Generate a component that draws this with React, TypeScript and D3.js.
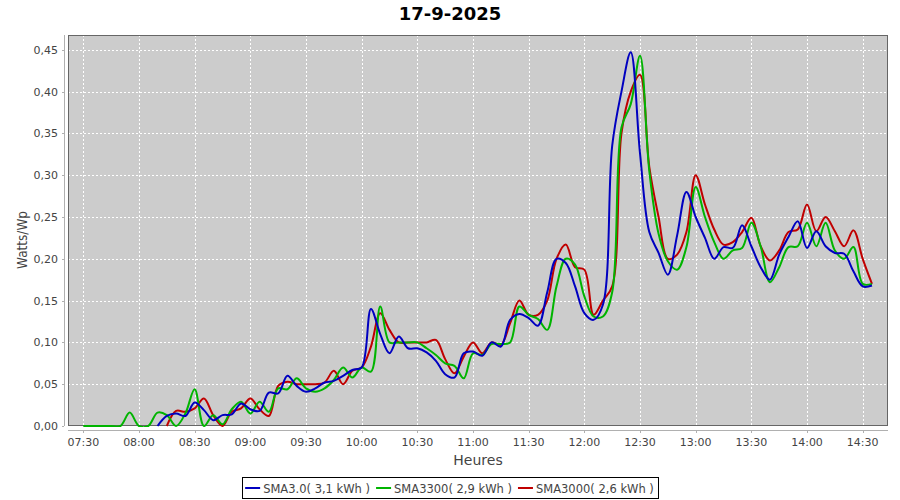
import React from 'react';
import * as d3 from 'd3';

const TITLE = '17-9-2025';
const Y_LABEL = 'Watts/Wp';
const X_LABEL = 'Heures';
const START_H = 7;
const START_M = 30;
const STEP_MIN = 5;

const SERIES_NAMES = ['SMA3.0( 3,1 kWh )', 'SMA3300( 2,9 kWh )', 'SMA3000( 2,6 kWh )'];
const SERIES_COLORS = ['#0000c0', '#00b400', '#c00000'];

const sma30: (number | null)[] = [
  null, null, null, null, null, null, null, null,
  0, 0.012, 0.015, 0.012, 0.028, 0.019, 0.007, 0.013, 0.014, 0.027, 0.02, 0.018,
  0.04, 0.039, 0.06, 0.048, 0.041, 0.045, 0.052, 0.054, 0.06, 0.067,
  0.07, 0.14, 0.11, 0.087, 0.107, 0.093, 0.093, 0.088, 0.078, 0.062,
  0.058, 0.087, 0.089, 0.084, 0.1, 0.095, 0.127, 0.134, 0.129, 0.12,
  0.16, 0.2, 0.195, 0.167, 0.135, 0.127, 0.145, 0.335, 0.4, 0.447,
  0.326, 0.232, 0.207, 0.181, 0.228, 0.28, 0.25, 0.225, 0.2, 0.214,
  0.213, 0.24, 0.215, 0.19, 0.175, 0.205, 0.226, 0.245, 0.213, 0.233,
  0.215, 0.207, 0.206, 0.185, 0.167, 0.168,
];

const sma3300: (number | null)[] = [
  0, 0, 0, 0, 0, 0.016, 0, 0, 0.016, 0.013,
  0, 0.015, 0.044, 0, 0.013, 0.002, 0.02, 0.029, 0.015, 0.029,
  0.017, 0.045, 0.044, 0.057, 0.045, 0.041, 0.045, 0.055, 0.07, 0.058,
  0.07, 0.065, 0.143, 0.1, 0.1, 0.1, 0.1, 0.093, 0.085, 0.075,
  0.072, 0.057, 0.087, 0.085, 0.098, 0.098, 0.1, 0.143, 0.133, 0.128,
  0.115, 0.167, 0.2, 0.193, 0.155, 0.131, 0.131, 0.16, 0.357, 0.385,
  0.443, 0.305, 0.23, 0.197, 0.187, 0.214, 0.286, 0.25, 0.22, 0.2,
  0.21, 0.213, 0.243, 0.215, 0.172, 0.19, 0.214, 0.215, 0.243, 0.215,
  0.243, 0.21, 0.2, 0.214, 0.17, 0.17,
];

const sma3000: (number | null)[] = [
  null, null, null, null, null, null, null, null, null,
  0, 0.018, 0.017, 0.021, 0.033, 0.013, 0, 0.017, 0.021, 0.033, 0.02,
  0.012, 0.048, 0.053, 0.05, 0.05, 0.05, 0.052, 0.066, 0.05, 0.066,
  0.07, 0.095, 0.135, 0.115, 0.1, 0.1, 0.1, 0.1, 0.103, 0.08,
  0.063, 0.083, 0.1, 0.087, 0.1, 0.097, 0.123, 0.15, 0.133, 0.133,
  0.15, 0.2, 0.217, 0.19, 0.187, 0.133, 0.15, 0.167, 0.35, 0.4,
  0.42, 0.31, 0.25, 0.2, 0.205, 0.232, 0.3, 0.265, 0.235, 0.217,
  0.22, 0.232, 0.249, 0.215, 0.198, 0.21, 0.232, 0.235, 0.265, 0.233,
  0.25, 0.233, 0.215, 0.234, 0.2, 0.17,
];

const SERIES = [sma30, sma3300, sma3000];

const Y_TICKS = [0, 0.05, 0.1, 0.15, 0.2, 0.25, 0.3, 0.35, 0.4, 0.45];
const X_TICKS = ['07:30', '08:00', '08:30', '09:00', '09:30', '10:00', '10:30', '11:00', '11:30', '12:00', '12:30', '13:00', '13:30', '14:00', '14:30'];

const W = 900;
const H = 500;
const PLOT = { left: 68, right: 888, top: 35, bottom: 426 };
const FONT = '"DejaVu Sans", Verdana, sans-serif';

const day = (h: number, m: number, s = 0) => new Date(2025, 8, 17, h, m, s);
const parseHM = (t: string) => {
  const [h, m] = t.split(':').map(Number);
  return day(h, m);
};

function measure(text: string, font: string): number {
  const c = document.createElement('canvas').getContext('2d');
  if (!c) return text.length * 6.5;
  c.font = font;
  return c.measureText(text).width;
}

export default function App() {
  const x = d3.scaleTime()
    .domain([day(7, 21, 45), day(14, 43, 38)])
    .range([PLOT.left, PLOT.right]);
  const y = d3.scaleLinear().domain([0, 0.4677]).range([PLOT.bottom, PLOT.top]);

  const timeAt = (i: number) => new Date(day(START_H, START_M).getTime() + i * STEP_MIN * 60000);

  const line = d3.line<[Date, number | null]>()
    .defined((d) => d[1] !== null)
    .x((d) => x(d[0]))
    .y((d) => y(d[1] as number))
    .curve(d3.curveCatmullRom.alpha(0.5));

  const fmt = d3.format('.2f');
  const yFmt = (v: number) => fmt(v).replace('.', ',');

  const legendFont = `11.5px ${FONT}`;
  const widths = SERIES_NAMES.map((n) => measure(n, legendFont));
  const swatch = 15;
  const itemGap = 6;
  const legendW = 3 + widths.reduce((a, w) => a + swatch + 3 + w, 0) + itemGap * 2 + 4;
  const legendX = W / 2 - legendW / 2;
  let cursor = legendX + 3;
  const legendItems = SERIES_NAMES.map((n, i) => {
    const item = { x: cursor, name: n, color: SERIES_COLORS[i] };
    cursor += swatch + 3 + widths[i] + itemGap;
    return item;
  });

  const drawOrder = [2, 1, 0];

  return (
    <svg width={W} height={H} style={{ position: 'absolute', left: 0, top: 0, background: '#ffffff' }}>
      <defs>
        <clipPath id="plotclip">
          <rect x={PLOT.left} y={PLOT.top} width={PLOT.right - PLOT.left} height={PLOT.bottom - PLOT.top + 1} />
        </clipPath>
      </defs>
      <rect x={0} y={0} width={W} height={H} fill="#ffffff" />
      <text x={W / 2} y={20} textAnchor="middle" fontFamily={FONT} fontWeight="bold" fontSize={18} fill="#000">{TITLE}</text>

      <rect x={PLOT.left} y={PLOT.top} width={PLOT.right - PLOT.left} height={PLOT.bottom - PLOT.top} fill="#cccccc" />

      {Y_TICKS.map((v) => (
        <line key={'gy' + v} x1={PLOT.left} x2={PLOT.right} y1={Math.round(y(v)) + 0.5} y2={Math.round(y(v)) + 0.5}
          stroke="#ffffff" strokeWidth={1} strokeDasharray="2,2" />
      ))}
      {X_TICKS.map((t) => (
        <line key={'gx' + t} y1={PLOT.top} y2={PLOT.bottom} x1={Math.round(x(parseHM(t))) + 0.5} x2={Math.round(x(parseHM(t))) + 0.5}
          stroke="#ffffff" strokeWidth={1} strokeDasharray="2,2" />
      ))}

      <rect x={PLOT.left + 0.5} y={PLOT.top + 0.5} width={PLOT.right - PLOT.left - 1} height={PLOT.bottom - PLOT.top - 1}
        fill="none" stroke="#666666" strokeWidth={1} />

      <g clipPath="url(#plotclip)">
        {drawOrder.map((si) => (
          <path key={'s' + si}
            d={line(SERIES[si].map((v, i) => [timeAt(i), v] as [Date, number | null])) || ''}
            fill="none" stroke={SERIES_COLORS[si]} strokeWidth={2} strokeLinejoin="round" />
        ))}
      </g>

      {/* Y axis */}
      <line x1={64.5} x2={64.5} y1={PLOT.top} y2={PLOT.bottom} stroke="#b0b0b0" />
      {Y_TICKS.map((v) => (
        <g key={'ty' + v}>
          <line x1={62} x2={64} y1={Math.round(y(v)) + 0.5} y2={Math.round(y(v)) + 0.5} stroke="#b0b0b0" />
          <text x={58} y={y(v) + 4} textAnchor="end" fontFamily={FONT} fontSize={11} fill="#444444">{yFmt(v)}</text>
        </g>
      ))}
      <text transform={`translate(27,240) rotate(-90)`} textAnchor="middle" fontFamily={FONT} fontSize={14} fill="#444444"
        textLength={58} lengthAdjust="spacingAndGlyphs">{Y_LABEL}</text>

      {/* X axis */}
      <line x1={PLOT.left} x2={PLOT.right} y1={430.5} y2={430.5} stroke="#b0b0b0" />
      {X_TICKS.map((t) => (
        <g key={'tx' + t}>
          <line x1={Math.round(x(parseHM(t))) + 0.5} x2={Math.round(x(parseHM(t))) + 0.5} y1={431} y2={433} stroke="#b0b0b0" />
          <text x={x(parseHM(t))} y={446} textAnchor="middle" fontFamily={FONT} fontSize={11} fill="#444444">{t}</text>
        </g>
      ))}
      <text x={(PLOT.left + PLOT.right) / 2} y={465} textAnchor="middle" fontFamily={FONT} fontSize={14} fill="#444444">{X_LABEL}</text>

      {/* Legend */}
      <rect x={Math.round(legendX) + 0.5} y={477.5} width={Math.round(legendW)} height={21} fill="#ffffff" stroke="#000000" />
      {legendItems.map((it) => (
        <g key={it.name}>
          <line x1={it.x} x2={it.x + swatch} y1={488} y2={488} stroke={it.color} strokeWidth={2} />
          <text x={it.x + swatch + 3} y={492.5} fontFamily={FONT} fontSize={11.5} fill="#444444">{it.name}</text>
        </g>
      ))}
    </svg>
  );
}
